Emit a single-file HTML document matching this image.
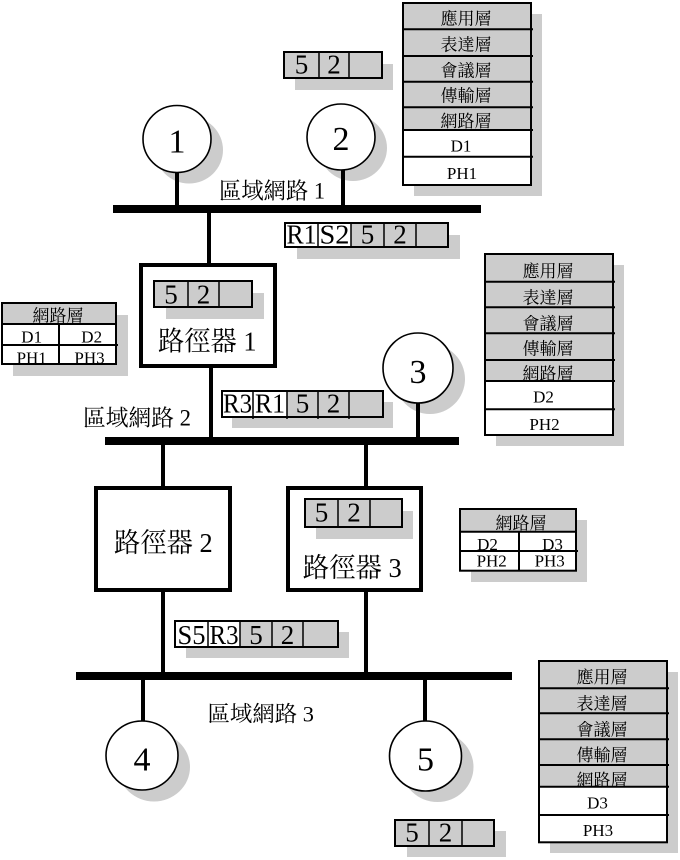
<!DOCTYPE html>
<html>
<head>
<meta charset="utf-8">
<style>
  html, body { margin: 0; padding: 0; background: #ffffff; }
  svg { display: block; }
  text { font-family: "Liberation Serif", "Noto Serif CJK SC", serif; fill: #000; }
</style>
</head>
<body>
<svg width="680" height="860" viewBox="0 0 680 860" xmlns="http://www.w3.org/2000/svg">
  <rect x="0" y="0" width="680" height="860" fill="#ffffff"/>

  <!-- ===== Shadows ===== -->
  <g fill="#cccccc">
    <!-- circles -->
    <ellipse cx="189" cy="150" rx="34" ry="33.5"/>
    <ellipse cx="353" cy="148" rx="34" ry="33"/>
    <ellipse cx="430" cy="379" rx="35" ry="35"/>
    <ellipse cx="154" cy="767" rx="36" ry="34.5"/>
    <ellipse cx="437.5" cy="767" rx="36" ry="35"/>
    <!-- tables -->
    <rect x="414" y="14" width="128" height="182"/>
    <rect x="496" y="265" width="128" height="181"/>
    <rect x="550" y="672" width="128" height="181"/>
    <rect x="13" y="315" width="115" height="61"/>
    <rect x="471" y="520" width="116" height="62"/>
    <!-- packets -->
    <rect x="295" y="64" width="98" height="26"/>
    <rect x="297" y="235" width="163" height="24"/>
    <rect x="232" y="402" width="161" height="26"/>
    <rect x="166" y="293" width="98" height="26"/>
    <rect x="316" y="511" width="97" height="28"/>
    <rect x="186" y="632" width="163" height="26"/>
    <rect x="407" y="831" width="99" height="26"/>
  </g>

  <!-- ===== Buses ===== -->
  <g fill="#000">
    <rect x="113" y="205" width="368" height="8"/>
    <rect x="105" y="437" width="354" height="8"/>
    <rect x="76" y="672" width="436" height="8"/>
  </g>

  <!-- ===== Stems ===== -->
  <g stroke="#000" stroke-width="4">
    <line x1="177" y1="170" x2="177" y2="206"/>
    <line x1="343" y1="168" x2="343" y2="206"/>
    <line x1="209" y1="212" x2="209" y2="264"/>
    <line x1="211" y1="367" x2="211" y2="438"/>
    <line x1="418" y1="401" x2="418" y2="438"/>
    <line x1="163" y1="444" x2="163" y2="487"/>
    <line x1="366" y1="444" x2="366" y2="487"/>
    <line x1="163" y1="591" x2="163" y2="673"/>
    <line x1="366" y1="591" x2="366" y2="673"/>
    <line x1="143" y1="679" x2="143" y2="722"/>
    <line x1="425" y1="679" x2="425" y2="722"/>
  </g>

  <!-- ===== Circles ===== -->
  <g fill="#ffffff" stroke="#000" stroke-width="1.6">
    <ellipse cx="177" cy="139" rx="34" ry="33.5"/>
    <ellipse cx="341" cy="137" rx="34" ry="33"/>
    <ellipse cx="418" cy="368" rx="35" ry="35"/>
    <ellipse cx="142" cy="755.5" rx="36" ry="34.5"/>
    <ellipse cx="425.5" cy="756" rx="36" ry="35"/>
  </g>
  <g font-size="34" text-anchor="middle">
    <text x="177" y="152.5">1</text>
    <text x="341" y="150">2</text>
    <text x="418" y="383">3</text>
    <text x="142" y="770.5">4</text>
    <text x="425.5" y="770.5">5</text>
  </g>

  <!-- ===== Routers ===== -->
  <g fill="#ffffff" stroke="#000" stroke-width="4">
    <rect x="141" y="265" width="134" height="101"/>
    <rect x="96" y="488" width="134" height="102"/>
    <rect x="288" y="488" width="133" height="102"/>
  </g>
  <!-- router inner packet shadows (drawn over white router fill) -->
  <g fill="#cccccc">
    <rect x="166" y="293" width="98" height="26"/>
    <rect x="316" y="511" width="97" height="28"/>
  </g>

  <!-- ===== Packets ===== -->
  <!-- top 5 2 -->
  <g>
    <rect x="284" y="52" width="98" height="26" fill="#cccccc" stroke="#000" stroke-width="2"/>
    <g stroke="#000" stroke-width="1.5">
      <line x1="319" y1="52" x2="319" y2="79"/>
      <line x1="349" y1="52" x2="349" y2="79"/>
    </g>
  </g>
  <!-- R1 S2 5 2 -->
  <g>
    <rect x="285" y="223" width="163" height="24" fill="#cccccc"/>
    <rect x="285" y="223" width="66" height="24" fill="#ffffff"/>
    <rect x="285" y="223" width="163" height="24" fill="none" stroke="#000" stroke-width="2"/>
    <g stroke="#000" stroke-width="1.5">
      <line x1="318" y1="223" x2="318" y2="248"/>
      <line x1="351" y1="223" x2="351" y2="248"/>
      <line x1="384" y1="223" x2="384" y2="248"/>
      <line x1="416" y1="223" x2="416" y2="248"/>
    </g>
  </g>
  <!-- router1 packet -->
  <g>
    <rect x="154" y="281" width="98" height="26" fill="#cccccc" stroke="#000" stroke-width="2"/>
    <g stroke="#000" stroke-width="1.5">
      <line x1="188" y1="281" x2="188" y2="308"/>
      <line x1="219" y1="281" x2="219" y2="308"/>
    </g>
  </g>
  <!-- R3 R1 5 2 -->
  <g>
    <rect x="222" y="391" width="161" height="26" fill="#cccccc"/>
    <rect x="222" y="391" width="65" height="26" fill="#ffffff"/>
    <rect x="222" y="391" width="161" height="26" fill="none" stroke="#000" stroke-width="2"/>
    <g stroke="#000" stroke-width="1.5">
      <line x1="253" y1="391" x2="253" y2="419"/>
      <line x1="287" y1="391" x2="287" y2="419"/>
      <line x1="318" y1="391" x2="318" y2="419"/>
      <line x1="349" y1="391" x2="349" y2="419"/>
    </g>
  </g>
  <!-- router3 packet -->
  <g>
    <rect x="305" y="499" width="97" height="28" fill="#cccccc" stroke="#000" stroke-width="2"/>
    <g stroke="#000" stroke-width="1.5">
      <line x1="338" y1="499" x2="338" y2="528"/>
      <line x1="370" y1="499" x2="370" y2="528"/>
    </g>
  </g>
  <!-- S5 R3 5 2 -->
  <g>
    <rect x="175" y="621" width="163" height="26" fill="#cccccc"/>
    <rect x="175" y="621" width="65" height="26" fill="#ffffff"/>
    <rect x="175" y="621" width="163" height="26" fill="none" stroke="#000" stroke-width="2"/>
    <g stroke="#000" stroke-width="1.5">
      <line x1="208" y1="621" x2="208" y2="648"/>
      <line x1="240" y1="621" x2="240" y2="648"/>
      <line x1="272" y1="621" x2="272" y2="648"/>
      <line x1="303" y1="621" x2="303" y2="648"/>
    </g>
  </g>
  <!-- bottom 5 2 -->
  <g>
    <rect x="395" y="820" width="99" height="26" fill="#cccccc" stroke="#000" stroke-width="2"/>
    <g stroke="#000" stroke-width="1.5">
      <line x1="429" y1="820" x2="429" y2="847"/>
      <line x1="462" y1="820" x2="462" y2="847"/>
    </g>
  </g>

  <!-- packet texts -->
  <g font-size="27" text-anchor="middle">
    <text x="301.5" y="73.5">5</text>
    <text x="334" y="73.5">2</text>

    <text x="301.5" y="243.5" textLength="30" lengthAdjust="spacingAndGlyphs">R1</text>
    <text x="334.5" y="243.5" textLength="30" lengthAdjust="spacingAndGlyphs">S2</text>
    <text x="367.5" y="243.5">5</text>
    <text x="400" y="243.5">2</text>

    <text x="171" y="303.3">5</text>
    <text x="203.5" y="303.3">2</text>

    <text x="237.5" y="412.7" textLength="29" lengthAdjust="spacingAndGlyphs">R3</text>
    <text x="270" y="412.7" textLength="30" lengthAdjust="spacingAndGlyphs">R1</text>
    <text x="302.5" y="412.7">5</text>
    <text x="333.5" y="412.7">2</text>

    <text x="321.5" y="521.7">5</text>
    <text x="354" y="521.7">2</text>

    <text x="191.5" y="644" textLength="28" lengthAdjust="spacingAndGlyphs">S5</text>
    <text x="224" y="644" textLength="29" lengthAdjust="spacingAndGlyphs">R3</text>
    <text x="256" y="644">5</text>
    <text x="287.5" y="644">2</text>

    <text x="412" y="841.7">5</text>
    <text x="445.5" y="841.7">2</text>
  </g>

  <!-- ===== Stack table 1 ===== -->
  <g>
    <rect x="403" y="3" width="128" height="127" fill="#cccccc"/>
    <rect x="403" y="130" width="128" height="55" fill="#ffffff"/>
    <g stroke="#000" stroke-width="2">
      <line x1="403" y1="29.3" x2="533" y2="29.3"/>
      <line x1="403" y1="56" x2="533" y2="56"/>
      <line x1="403" y1="81.7" x2="533" y2="81.7"/>
      <line x1="403" y1="107.3" x2="533" y2="107.3"/>
      <line x1="403" y1="130" x2="533" y2="130"/>
      <line x1="403" y1="156.7" x2="533" y2="156.7"/>
    </g>
    <rect x="403" y="3" width="128" height="182" fill="none" stroke="#000" stroke-width="2"/>
    <g font-size="17" text-anchor="middle">
      <text x="466" y="24.5">應用層</text>
      <text x="466" y="50.5">表達層</text>
      <text x="466" y="76.5">會議層</text>
      <text x="466" y="101.5">傳輸層</text>
      <text x="466" y="127">網路層</text>
      <text x="461" y="151.5">D1</text>
      <text x="462" y="178.8">PH1</text>
    </g>
  </g>

  <!-- ===== Stack table 2 ===== -->
  <g>
    <rect x="485" y="254" width="128" height="127" fill="#cccccc"/>
    <rect x="485" y="381" width="128" height="54" fill="#ffffff"/>
    <g stroke="#000" stroke-width="2">
      <line x1="485" y1="281.7" x2="615" y2="281.7"/>
      <line x1="485" y1="307.3" x2="615" y2="307.3"/>
      <line x1="485" y1="333.3" x2="615" y2="333.3"/>
      <line x1="485" y1="360" x2="615" y2="360"/>
      <line x1="485" y1="381" x2="615" y2="381"/>
      <line x1="485" y1="409.3" x2="615" y2="409.3"/>
    </g>
    <rect x="485" y="254" width="128" height="181" fill="none" stroke="#000" stroke-width="2"/>
    <g font-size="17" text-anchor="middle">
      <text x="548" y="277">應用層</text>
      <text x="548" y="303.5">表達層</text>
      <text x="548" y="329.5">會議層</text>
      <text x="548" y="354.5">傳輸層</text>
      <text x="548" y="379.5">網路層</text>
      <text x="543.5" y="402.7">D2</text>
      <text x="544.5" y="430">PH2</text>
    </g>
  </g>

  <!-- ===== Stack table 3 ===== -->
  <g>
    <rect x="539" y="661" width="128" height="126" fill="#cccccc"/>
    <rect x="539" y="787" width="128" height="55" fill="#ffffff"/>
    <g stroke="#000" stroke-width="2">
      <line x1="539" y1="688.3" x2="669" y2="688.3"/>
      <line x1="539" y1="713.3" x2="669" y2="713.3"/>
      <line x1="539" y1="739.3" x2="669" y2="739.3"/>
      <line x1="539" y1="765" x2="669" y2="765"/>
      <line x1="539" y1="786.7" x2="669" y2="786.7"/>
      <line x1="539" y1="815" x2="669" y2="815"/>
    </g>
    <rect x="539" y="661" width="128" height="181.3" fill="none" stroke="#000" stroke-width="2"/>
    <g font-size="17" text-anchor="middle">
      <text x="602" y="683">應用層</text>
      <text x="602" y="709.5">表達層</text>
      <text x="602" y="735.5">會議層</text>
      <text x="602" y="761">傳輸層</text>
      <text x="602" y="786">網路層</text>
      <text x="597.5" y="808.3">D3</text>
      <text x="598" y="836">PH3</text>
    </g>
  </g>

  <!-- ===== Left small table ===== -->
  <g>
    <rect x="2" y="303" width="114" height="21" fill="#cccccc"/>
    <rect x="2" y="324" width="114" height="40" fill="#ffffff"/>
    <g stroke="#000" stroke-width="2">
      <line x1="2" y1="324" x2="116" y2="324"/>
      <line x1="2" y1="345" x2="118" y2="345"/>
      <line x1="59" y1="324" x2="59" y2="364"/>
    </g>
    <rect x="2" y="303" width="114" height="61" fill="none" stroke="#000" stroke-width="2"/>
    <g font-size="17" text-anchor="middle">
      <text x="58" y="321.5">網路層</text>
      <text x="31.7" y="342.3">D1</text>
      <text x="91.7" y="342.3">D2</text>
      <text x="31.7" y="363.5">PH1</text>
      <text x="89.5" y="363.5">PH3</text>
    </g>
  </g>

  <!-- ===== Middle small table ===== -->
  <g>
    <rect x="460" y="509" width="116" height="22.7" fill="#cccccc"/>
    <rect x="460" y="531.7" width="116" height="39" fill="#ffffff"/>
    <g stroke="#000" stroke-width="2">
      <line x1="460" y1="531.7" x2="576" y2="531.7"/>
      <line x1="460" y1="551" x2="578" y2="551"/>
      <line x1="519" y1="531.7" x2="519" y2="570.7"/>
    </g>
    <rect x="460" y="509" width="116" height="61.7" fill="none" stroke="#000" stroke-width="2"/>
    <g font-size="17" text-anchor="middle">
      <text x="521" y="529">網路層</text>
      <text x="487.5" y="550">D2</text>
      <text x="552.5" y="550">D3</text>
      <text x="491.7" y="566.7">PH2</text>
      <text x="549.7" y="566.7">PH3</text>
    </g>
  </g>

  <!-- ===== Labels ===== -->
  <g font-size="23">
    <text x="219" y="198.5" textLength="106" lengthAdjust="spacingAndGlyphs">區域網路 1</text>
    <text x="83" y="425.5" textLength="108" lengthAdjust="spacingAndGlyphs">區域網路 2</text>
    <text x="207.5" y="721.5" font-size="22" textLength="106.5" lengthAdjust="spacingAndGlyphs">區域網路 3</text>
  </g>
  <g font-size="27">
    <text x="158" y="350.5" textLength="98.5" lengthAdjust="spacingAndGlyphs">路徑器 1</text>
    <text x="114" y="552" textLength="98.7" lengthAdjust="spacingAndGlyphs">路徑器 2</text>
    <text x="302.7" y="577" textLength="99" lengthAdjust="spacingAndGlyphs">路徑器 3</text>
  </g>
</svg>
</body>
</html>
